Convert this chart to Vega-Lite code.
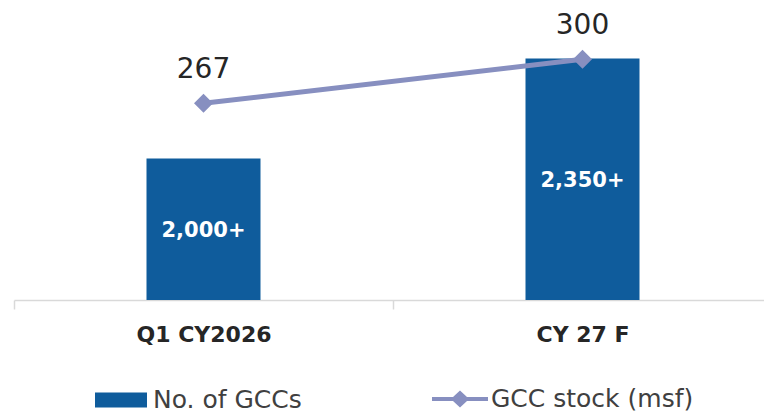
{
  "$schema": "https://vega.github.io/schema/vega-lite/v6.json",
  "width": 750,
  "height": 290,
  "autosize": {"type": "none"},
  "padding": {"left": 14, "top": 10, "right": 0, "bottom": 114},
  "background": "white",
  "config": {"view": {"stroke": null}},
  "data": {
    "values": [
      {"period": "Q1 CY2026", "gccs": 2000, "gcc_label": "2,000+", "stock": 267},
      {"period": "CY 27 F", "gccs": 2350, "gcc_label": "2,350+", "stock": 300}
    ]
  },
  "encoding": {
    "x": {
      "field": "period",
      "type": "nominal",
      "sort": null,
      "scale": {"range": [0, 758], "paddingInner": 0, "paddingOuter": 0},
      "axis": {
        "title": null,
        "labelAngle": 0,
        "domainColor": "#d9d9d9",
        "domainWidth": 1.5,
        "tickColor": "#d9d9d9",
        "tickWidth": 1.5,
        "tickSize": 9,
        "tickBand": "extent",
        "labelFont": "DejaVu Sans",
        "labelFontWeight": "bold",
        "labelFontSize": 22,
        "labelColor": "#262626",
        "labelPadding": 15,
        "labelOverlap": false,
        "labelBound": false,
        "labelFlush": false,
        "grid": false,
        "zindex": 0
      }
    }
  },
  "layer": [
    {
      "mark": {"type": "bar", "size": 114},
      "encoding": {
        "y": {"field": "gccs", "type": "quantitative", "scale": {"domain": [1505, 2520], "zero": false, "nice": false}, "axis": null},
        "y2": {"datum": 1505},
        "color": {
          "datum": "No. of GCCs",
          "scale": {"range": ["#0f5c9c"]},
          "legend": {
            "title": null,
            "orient": "none",
            "legendX": 81,
            "legendY": 364,
            "symbolType": "M-1,-0.29H1V0.29H-1Z",
            "symbolSize": 2704,
            "symbolStrokeWidth": 0,
            "labelFont": "DejaVu Sans",
            "labelFontSize": 25,
            "labelColor": "#404040",
            "labelOffset": 6,
            "labelLimit": 400
          }
        }
      }
    },
    {
      "mark": {"type": "text", "color": "white", "font": "DejaVu Sans", "fontWeight": "bold", "fontSize": 21, "baseline": "middle", "dy": 2},
      "encoding": {
        "y": {"field": "gccs", "type": "quantitative", "scale": {"domain": [1505, 3535], "zero": false, "nice": false}, "axis": null},
        "text": {"field": "gcc_label"}
      }
    },
    {
      "mark": {"type": "line", "strokeWidth": 5, "point": {"shape": "diamond", "size": 361, "filled": true, "color": "#878fc0", "opacity": 1}},
      "encoding": {
        "y": {"field": "stock", "type": "quantitative", "scale": {"domain": [119.5, 337], "zero": false, "nice": false}, "axis": null},
        "color": {
          "datum": "GCC stock (msf)",
          "scale": {"range": ["#878fc0"]},
          "legend": {
            "title": null,
            "orient": "none",
            "legendX": 418,
            "legendY": 361,
            "symbolType": "M-1,-0.07H-0.25L0,-0.3L0.25,-0.07H1V0.07H0.25L0,0.3L-0.25,0.07H-1Z",
            "symbolSize": 3136,
            "labelFont": "DejaVu Sans",
            "labelFontSize": 25,
            "labelColor": "#404040",
            "labelOffset": 3,
            "labelLimit": 400,
            "encode": {"symbols": {"update": {"fill": {"value": "#878fc0"}, "stroke": {"value": "#878fc0"}, "strokeWidth": {"value": 0}, "opacity": {"value": 1}}}}
          }
        }
      }
    },
    {
      "mark": {"type": "text", "color": "#262626", "font": "DejaVu Sans", "fontSize": 28, "baseline": "alphabetic", "dy": -25},
      "encoding": {
        "y": {"field": "stock", "type": "quantitative", "scale": {"domain": [119.5, 337], "zero": false, "nice": false}, "axis": null},
        "text": {"field": "stock", "type": "quantitative", "format": "d"}
      }
    }
  ],
  "resolve": {"scale": {"y": "independent", "color": "independent"}}
}
